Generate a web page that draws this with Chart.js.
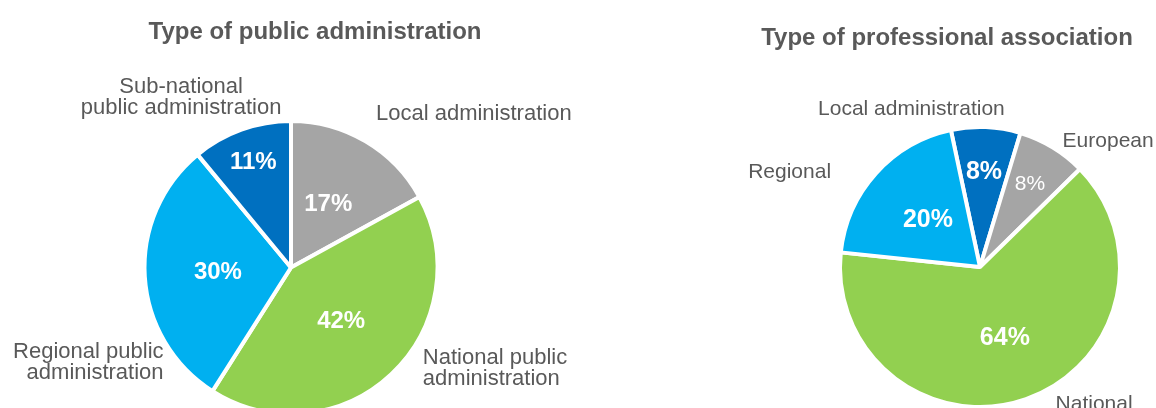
<!DOCTYPE html>
<html>
<head>
<meta charset="utf-8">
<script src="https://cdn.jsdelivr.net/npm/chart.js@4.4.1/dist/chart.umd.min.js"></script>
<style>
    html, body { margin: 0; padding: 0; background: #fff; overflow: hidden; }
    body { width: 1156px; height: 408px; position: relative; }
    .box { position: absolute; top: 0; width: 578px; height: 460px; }
</style>
</head>
<body>
<div class="box" style="left:0"><canvas id="adminChart"></canvas></div>
<div class="box" style="left:578px"><canvas id="assocChart"></canvas></div>
<script>
// ===== DATA =====
const adminLabels = [
    ['Local administration'],
    ['National public', 'administration'],
    ['Regional public', 'administration'],
    ['Sub-national', 'public administration']
];
const adminValues = [17, 42, 30, 11];
const adminColors = ['#A5A5A5', '#92D050', '#00B0F0', '#0070C0'];

const assocLabels = [['Local administration'], ['European'], ['National'], ['Regional']];
const assocValues = [8, 8, 64, 20];
const assocColors = ['#0070C0', '#A5A5A5', '#92D050', '#00B0F0'];

const FONT = '"Liberation Sans", Arial, sans-serif';

// ===== LABEL PLUGIN =====
const pieText = {
    id: 'pieText',
    afterDatasetsDraw(chart, args, opts) {
        const ctx = chart.ctx;
        const arcs = chart.getDatasetMeta(0).data;
        const values = chart.data.datasets[0].data;
        const total = values.reduce((a, b) => a + b, 0);

        ctx.save();
        ctx.textBaseline = 'middle';
        ctx.textAlign = 'center';
        ctx.fillStyle = '#595959';
        ctx.font = `bold 24px ${FONT}`;
        ctx.fillText(opts.title, opts.titleX, opts.titleY);

        arcs.forEach((arc, i) => {
            const { x, y, startAngle, endAngle, outerRadius } =
                arc.getProps(['x', 'y', 'startAngle', 'endAngle', 'outerRadius'], true);
            const mid = (startAngle + endAngle) / 2;

            // percentage inside slice
            const r = outerRadius * opts.pctRadius[i];
            ctx.textAlign = 'center';
            ctx.fillStyle = '#fff';
            ctx.font = opts.pctFont[i];
            ctx.fillText(Math.round(values[i] / total * 100) + '%',
                x + Math.cos(mid) * r, y + Math.sin(mid) * r);

            // category label outside
            const pos = opts.outside[i];
            const lines = [].concat(chart.data.labels[i]);
            ctx.textAlign = pos.align;
            ctx.fillStyle = '#595959';
            ctx.font = opts.labelFont;
            const lx = x + pos.dx * outerRadius;
            const ly = y + pos.dy * outerRadius;
            lines.forEach((line, k) => {
                ctx.fillText(line, lx, ly + (k - (lines.length - 1) / 2) * opts.lineHeight);
            });
        });
        ctx.restore();
    }
};

// ===== CHARTS =====
function createPie(id, labels, values, colors, rotation, padding, text) {
    return new Chart(document.getElementById(id), {
        type: 'pie',
        data: {
            labels: labels,
            datasets: [{
                data: values,
                backgroundColor: colors,
                borderColor: '#fff',
                borderWidth: 4
            }]
        },
        options: {
            responsive: true,
            maintainAspectRatio: false,
            animation: false,
            rotation: rotation,
            layout: { padding: padding },
            plugins: {
                legend: { display: false },
                tooltip: { enabled: false },
                pieText: text
            }
        },
        plugins: [pieText]
    });
}

createPie('adminChart', adminLabels, adminValues, adminColors, 0,
    { left: 142, top: 119, right: 138, bottom: 44 },
    {
        title: 'Type of public administration',
        titleX: 315, titleY: 32,
        labelFont: `22px ${FONT}`,
        lineHeight: 21,
        pctRadius: [0.5, 0.5, 0.5, 0.76],
        pctFont: [`bold 24px ${FONT}`, `bold 24px ${FONT}`, `bold 24px ${FONT}`, `bold 24px ${FONT}`],
        outside: [
            { dx: 0.58, dy: -1.05, align: 'left' },
            { dx: 0.90, dy: 0.69, align: 'left' },
            { dx: -0.87, dy: 0.65, align: 'right' },
            { dx: -0.75, dy: -1.16, align: 'center' }
        ]
    });

createPie('assocChart', assocLabels, assocValues, assocColors, -12,
    { left: 260, top: 125, right: 34, bottom: 51 },
    {
        title: 'Type of professional association',
        titleX: 369, titleY: 38,
        labelFont: `21px ${FONT}`,
        lineHeight: 21,
        pctRadius: [0.68, 0.69, 0.54, 0.5],
        pctFont: [`bold 25px ${FONT}`, `21px ${FONT}`, `bold 25px ${FONT}`, `bold 25px ${FONT}`],
        outside: [
            { dx: -0.49, dy: -1.13, align: 'center' },
            { dx: 0.59, dy: -0.9, align: 'left' },
            { dx: 0.54, dy: 0.98, align: 'left' },
            { dx: -1.36, dy: -0.68, align: 'center' }
        ]
    });
</script>
</body>
</html>
